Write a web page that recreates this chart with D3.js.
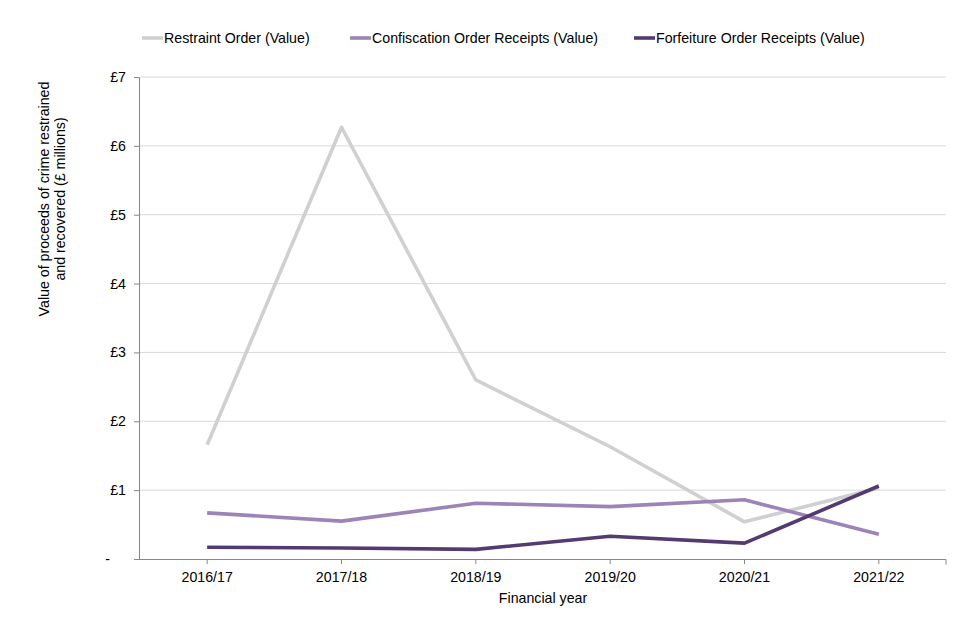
<!DOCTYPE html>
<html>
<head>
<meta charset="utf-8">
<script src="https://cdn.jsdelivr.net/npm/d3@7"></script>
<style>
  body { margin: 0; background: #fff; }
  svg { font-family: "Liberation Sans", Arial, sans-serif; }
</style>
</head>
<body>
<div id="chart"></div>
<script>
const years = ['2016/17', '2017/18', '2018/19', '2019/20', '2020/21', '2021/22'];
const restraint = [1.66, 6.27, 2.60, 1.63, 0.54, 1.03];
const confiscation = [0.67, 0.55, 0.81, 0.76, 0.86, 0.36];
const forfeiture = [0.17, 0.16, 0.14, 0.33, 0.23, 1.06];
const yTicks = [0, 1, 2, 3, 4, 5, 6, 7];
const seriesNames = ['Restraint Order (Value)', 'Confiscation Order Receipts (Value)', 'Forfeiture Order Receipts (Value)'];

const width = 960;
const height = 640;
const margin = { top: 77, right: 14, bottom: 81, left: 140 };
const colors = ['#d0d0d0', '#9c84b6', '#533a70'];
const fontSize = 14.2;

const series = [restraint, confiscation, forfeiture].map((values, i) => ({
  name: seriesNames[i],
  color: colors[i],
  values: values.map((v, j) => ({ year: years[j], value: v })),
}));

const x = d3
  .scaleBand()
  .domain(years)
  .range([margin.left, width - margin.right]);

const y = d3
  .scaleLinear()
  .domain([0, 7])
  .range([height - margin.bottom, margin.top]);

const svg = d3
  .create('svg')
  .attr('width', width)
  .attr('height', height)
  .attr('viewBox', [0, 0, width, height]);

// gridlines
svg
  .append('g')
  .selectAll('line')
  .data(yTicks.filter((d) => d > 0))
  .join('line')
  .attr('x1', margin.left)
  .attr('x2', width - margin.right)
  .attr('y1', (d) => y(d))
  .attr('y2', (d) => y(d))
  .attr('stroke', '#d9d9d9')
  .attr('stroke-width', 1);

// y axis
const yAxis = svg
  .append('g')
  .attr('transform', `translate(${margin.left - 1},0)`)
  .call(
    d3
      .axisLeft(y)
      .tickValues(yTicks)
      .tickSize(5)
      .tickPadding(8)
      .tickFormat((d) => (d === 0 ? '-' : `£${d}`))
  );
yAxis.select('.domain').attr('stroke', '#868686');
yAxis.selectAll('.tick line').attr('stroke', '#868686');
yAxis
  .selectAll('.tick text')
  .attr('font-size', fontSize)
  .attr('fill', '#000')
  .attr('font-family', '"Liberation Sans", Arial, sans-serif')
  .attr('dx', (d) => (d === 0 ? -16 : null));

// x axis: ticks at category centres plus one at the right end
const xAxis = svg
  .append('g')
  .attr('transform', `translate(0,${height - margin.bottom})`)
  .call(d3.axisBottom(x).tickSize(5).tickPadding(8).tickSizeOuter(0));
xAxis.select('.domain').attr('stroke', '#868686').attr('d', `M${margin.left - 5},0.5H${width - margin.right}V5.5`);
xAxis.selectAll('.tick line').attr('stroke', '#868686');
xAxis
  .selectAll('.tick text')
  .attr('font-size', fontSize)
  .attr('fill', '#000')
  .attr('font-family', '"Liberation Sans", Arial, sans-serif');

// lines
const line = d3
  .line()
  .x((d) => x(d.year) + x.bandwidth() / 2)
  .y((d) => y(d.value));

svg
  .append('g')
  .selectAll('path')
  .data(series)
  .join('path')
  .attr('fill', 'none')
  .attr('stroke', (d) => d.color)
  .attr('stroke-width', 3.6)
  .attr('stroke-linejoin', 'round')
  .attr('d', (d) => line(d.values));

// axis titles
svg
  .append('text')
  .attr('x', (margin.left + width - margin.right) / 2)
  .attr('y', 603)
  .attr('text-anchor', 'middle')
  .attr('font-size', fontSize)
  .text('Financial year');

const yTitle = svg
  .append('text')
  .attr('transform', `translate(52,199) rotate(-90)`)
  .attr('text-anchor', 'middle')
  .attr('font-size', fontSize);
yTitle.append('tspan').attr('x', 0).attr('dy', '-0.2em').text('Value of proceeds of crime restrained');
yTitle.append('tspan').attr('x', 0).attr('dy', '1.15em').text('and recovered (£ millions)');

// legend
const legendX = [142, 350, 634];
const legend = svg
  .append('g')
  .selectAll('g')
  .data(series)
  .join('g')
  .attr('transform', (d, i) => `translate(${legendX[i]},38)`);
legend
  .append('line')
  .attr('x1', 0)
  .attr('x2', 21)
  .attr('stroke', (d) => d.color)
  .attr('stroke-width', 3.6);
legend
  .append('text')
  .attr('x', 22)
  .attr('dy', '0.35em')
  .attr('font-size', fontSize)
  .text((d) => d.name);

document.querySelector('div#chart').appendChild(svg.node());
</script>
</body>
</html>
